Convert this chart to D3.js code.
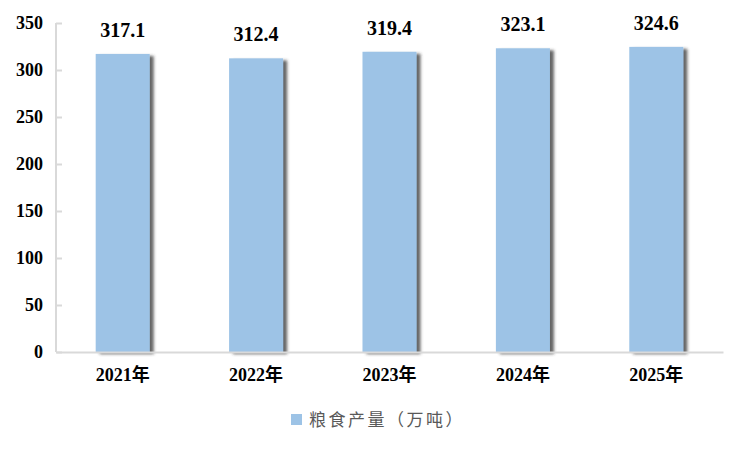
<!DOCTYPE html>
<html>
<head>
<meta charset="utf-8">
<script src="https://cdn.jsdelivr.net/npm/d3@7"></script>
<style>
  body { margin: 0; background: #fff; }
  svg { display: block; }
</style>
</head>
<body>
<div id="chart"></div>
<script>
const years = ['2021年', '2022年', '2023年', '2024年', '2025年'];
const output = [317.1, 312.4, 319.4, 323.1, 324.6];
const yTicks = [0, 50, 100, 150, 200, 250, 300, 350];
const seriesName = '粮食产量（万吨）';

const W = 751, H = 451;
const margin = { top: 23, right: 28, bottom: 99, left: 56 };
const width = W - margin.left - margin.right;
const height = H - margin.top - margin.bottom;

const svg = d3.select('#chart').append('svg')
  .attr('width', W)
  .attr('height', H);

// shadow behind the bars
const defs = svg.append('defs');
const filter = defs.append('filter')
  .attr('id', 'shadow')
  .attr('x', '-20%').attr('y', '-5%')
  .attr('width', '150%').attr('height', '115%');
filter.append('feDropShadow')
  .attr('dx', 4).attr('dy', 2)
  .attr('stdDeviation', 1.6)
  .attr('flood-color', '#333')
  .attr('flood-opacity', 0.75);

const g = svg.append('g')
  .attr('transform', `translate(${margin.left},${margin.top})`);

const x = d3.scaleBand()
  .domain(years)
  .range([0, width])
  .paddingInner(0.595)
  .paddingOuter(0.2975);

const y = d3.scaleLinear()
  .domain([0, 350])
  .range([height, 0]);

// y axis
const yAxis = g.append('g')
  .call(d3.axisRight(y).tickValues(yTicks).tickSize(6).tickFormat(d3.format('d')));
yAxis.select('.domain').attr('stroke', '#d9d9d9').attr('stroke-width', 2)
  .attr('d', `M0,0V${height}`);
yAxis.selectAll('.tick line').attr('stroke', '#d9d9d9').attr('stroke-width', 2);
yAxis.selectAll('.tick text')
  .attr('x', -13)
  .attr('text-anchor', 'end')
  .attr('dy', '0.32em')
  .style('font-family', '"Liberation Serif", serif')
  .style('font-weight', 'bold')
  .style('font-size', '18px')
  .attr('fill', '#000');

// bars
g.selectAll('.bar')
  .data(output)
  .join('rect')
  .attr('class', 'bar')
  .attr('x', (d, i) => x(years[i]))
  .attr('y', d => y(d))
  .attr('width', x.bandwidth())
  .attr('height', d => height - y(d))
  .attr('fill', '#9dc3e6')
  .attr('filter', 'url(#shadow)');

// x axis
const xAxis = g.append('g')
  .attr('transform', `translate(0,${height})`)
  .call(d3.axisBottom(x).tickSize(0));
xAxis.select('.domain').attr('stroke', '#d9d9d9').attr('stroke-width', 2);
xAxis.selectAll('.tick text')
  .attr('dy', '0.71em')
  .attr('y', 16)
  .style('font-family', '"Liberation Serif", "Noto Sans CJK SC", serif')
  .style('font-weight', 'bold')
  .style('font-size', '18px')
  .attr('fill', '#000');

// value labels
g.selectAll('.label')
  .data(output)
  .join('text')
  .attr('class', 'label')
  .attr('x', (d, i) => x(years[i]) + x.bandwidth() / 2)
  .attr('y', d => y(d) - 17)
  .attr('text-anchor', 'middle')
  .style('font-family', '"Liberation Serif", serif')
  .style('font-weight', 'bold')
  .style('font-size', '20px')
  .text(d => d.toFixed(1));

// legend
const legend = svg.append('g')
  .attr('transform', 'translate(291,414)');
legend.append('rect')
  .attr('width', 11).attr('height', 11)
  .attr('fill', '#9dc3e6');
legend.append('text')
  .attr('x', 18)
  .attr('y', 6)
  .attr('dy', '0.35em')
  .style('font-family', '"Noto Sans CJK SC", sans-serif')
  .style('font-size', '17px')
  .style('font-feature-settings', '"fwid" 1')
  .style('letter-spacing', '2.5px')
  .attr('fill', '#595959')
  .text(seriesName);
</script>
</body>
</html>
